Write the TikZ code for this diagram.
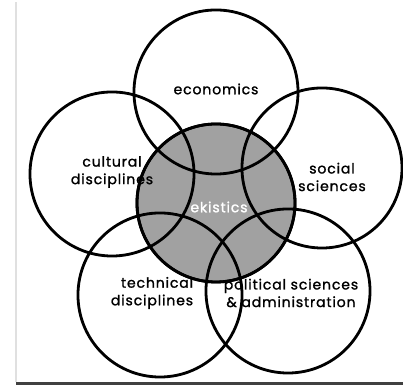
\documentclass[tikz,border=0pt]{standalone}
\usepackage{fontspec}
\setmainfont{Poppins}
\newfontfamily\ekifont[FakeBold=1.2, LetterSpace=6]{Poppins}
\usepackage{xcolor}
\definecolor{ekigray}{gray}{0.63}
\definecolor{scanedge}{gray}{0.88}
\definecolor{scanbase}{gray}{0.25}

\begin{document}
\begin{tikzpicture}[x=0.025cm, y=0.025cm, line width=2pt,
    ring/.style={draw, circle, inner sep=0pt, outer sep=0pt},
    lbl/.style={font=\ekifont\fontsize{10}{12.5}\selectfont, align=center, inner sep=0pt}]
  \useasboundingbox (0,0) rectangle (403,385);
  \draw[scanedge, line width=1pt] (16,383) -- (16,3);
  \draw[scanbase, line width=2pt] (16,1.5) -- (403,1.5);
  % the core
  \node[ring, fill=ekigray, minimum size=3.95cm] (eki) at (216,182) {};
  % the five disciplines round it
  \node[ring, minimum size=4.1cm] (eco) at (216,293) {};
  \node[ring, minimum size=4.1cm] (cul) at (112,211) {};
  \node[ring, minimum size=4.0cm] (soc) at (322,217) {};
  \node[ring, minimum size=4.1cm] (tec) at (160,90) {};
  \node[ring, minimum size=4.1cm] (pol) at (288,94) {};
  \draw (eki) circle (79);
  % labels
  \node[lbl] (ecot) at (216,296) {economics};
  \node[lbl] (cult) at (112,213) {cultural\\disciplines};
  \node[lbl] (soct) at (332,208) {social\\sciences};
  \node[lbl, white] (ekit) at (219,178) {ekistics};
  \node[lbl, align=right] (tect) at (152,92) {technical\\disciplines};
  \node[lbl] (polt) at (291,92) {political sciences\\\& administration};
\end{tikzpicture}
\end{document}
